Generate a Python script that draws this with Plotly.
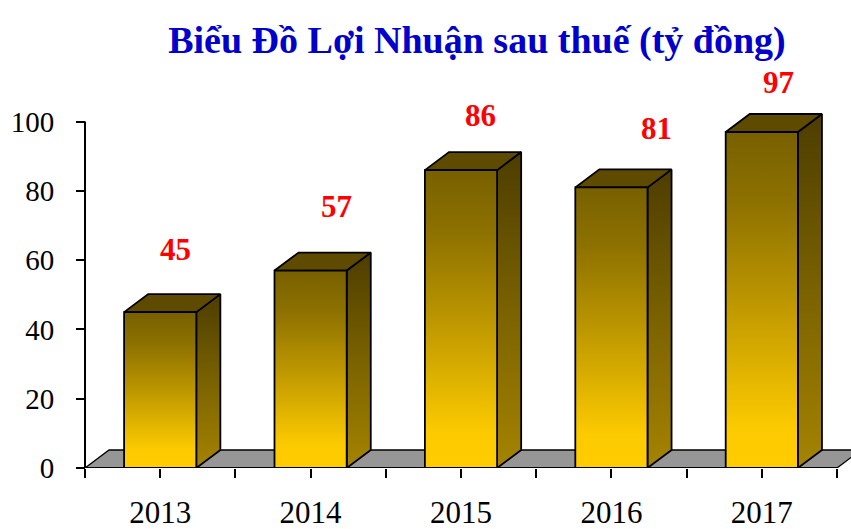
import plotly.graph_objects as go

# ---- data ----
years = ["2013", "2014", "2015", "2016", "2017"]
profit = [45, 57, 86, 81, 97]
y_ticks = [0, 20, 40, 60, 80, 100]
title_text = "Biểu Đồ Lợi Nhuận sau thuế (tỷ đồng)"

# ---- style / layout constants ----
FONT = "Liberation Serif, Times New Roman, serif"
BAR_HALF = 0.24          # half bar width in category units
DEPTH_X = 0.16           # 3D depth offset (category units)
DEPTH_Y = 5.2            # 3D depth offset (value units)
FRONT_SCALE = [[0, "#FFCC00"], [0.12, "#FCCA00"], [0.5, "#BC9600"], [0.8, "#8C7000"], [1, "#786000"]]
SIDE_SCALE = [[0, "#A58400"], [0.5, "#7A6200"], [1, "#4D3D00"]]
TOP_FACE = "#5E4B00"
FLOOR = "#969696"
# pixel nudges for the value labels (dx, dy)
label_nudge = [(15, 63), (26, 64), (19, 55), (45, 59), (17, 49)]

W, H = 851, 529
ML, MR, MT, MB = 55, 0, 60, 61
PX_PER_CAT = 150.4
PX_PER_VAL = 3.464
x0 = -(85 - ML) / PX_PER_CAT
x1 = x0 + (W - ML - MR) / PX_PER_CAT
y1 = (H - MT - MB) / PX_PER_VAL

fig = go.Figure()

def poly(xs, ys, fillcolor=None, gradient=None, lw=1.8, lc="black"):
    kw = dict(x=xs + [xs[0]], y=ys + [ys[0]], mode="lines", fill="toself",
              line=dict(color=lc, width=lw), hoverinfo="skip", showlegend=False)
    if gradient is not None:
        kw["fillgradient"] = gradient
    else:
        kw["fillcolor"] = fillcolor
    fig.add_trace(go.Scatter(**kw))

n = len(years)
# floor
poly([0, n, n + DEPTH_X, DEPTH_X], [0, 0, DEPTH_Y, DEPTH_Y], fillcolor=FLOOR, lw=1.3)

for i, v in enumerate(profit):
    cx = i + 0.5
    l, r = cx - BAR_HALF, cx + BAR_HALF
    # side face
    poly([r, r + DEPTH_X, r + DEPTH_X, r], [0, DEPTH_Y, v + DEPTH_Y, v],
         gradient=dict(type="vertical", colorscale=SIDE_SCALE, start=0, stop=v + DEPTH_Y))
    # top face
    poly([l, r, r + DEPTH_X, l + DEPTH_X], [v, v, v + DEPTH_Y, v + DEPTH_Y], fillcolor=TOP_FACE)
    # front face
    poly([l, r, r, l], [0, 0, v, v],
         gradient=dict(type="vertical", colorscale=FRONT_SCALE, start=0, stop=v))

# axis lines
fig.add_trace(go.Scatter(x=[0, n], y=[0, 0], mode="lines", line=dict(color="black", width=2),
                         hoverinfo="skip", showlegend=False))
fig.add_trace(go.Scatter(x=[0, 0], y=[0, max(y_ticks)], mode="lines", line=dict(color="black", width=2),
                         hoverinfo="skip", showlegend=False))

# value labels
for i, v in enumerate(profit):
    dx, dy = label_nudge[i]
    fig.add_annotation(x=i + 0.5, y=v, xshift=dx, yshift=dy, text=f"<b>{v}</b>",
                       showarrow=False, xanchor="center", yanchor="middle",
                       font=dict(family=FONT, size=31, color="#FF0000"))

xt_vals = [k * 0.5 for k in range(2 * n + 1)]
xt_text = [years[k // 2] if k % 2 == 1 else "" for k in range(2 * n + 1)]

fig.update_layout(
    width=W, height=H,
    margin=dict(l=ML, r=MR, t=MT, b=MB, autoexpand=False),
    paper_bgcolor="white", plot_bgcolor="white",
    showlegend=False,
    title=dict(text=f"<b>{title_text}</b>", xref="container", yref="container",
               x=477 / W, y=1 - 40 / H, xanchor="center", yanchor="middle",
               font=dict(family=FONT, size=38, color="#0000CC")),
    xaxis=dict(range=[x0, x1], tickvals=xt_vals, ticktext=xt_text, ticks="outside",
               ticklen=9, tickwidth=2, tickcolor="black", showgrid=False, zeroline=False,
               showline=False, ticklabelstandoff=8, automargin=False,
               tickfont=dict(family=FONT, size=31, color="black")),
    yaxis=dict(range=[0, y1], tickvals=y_ticks, ticks="outside", ticklen=9, tickwidth=2,
               tickcolor="black", showgrid=False, zeroline=False, showline=False,
               anchor="free", position=(85 - ML) / (W - ML - MR), ticklabelstandoff=16,
               automargin=False,
               tickfont=dict(family=FONT, size=29, color="black")),
)

fig.write_html("out.html")
